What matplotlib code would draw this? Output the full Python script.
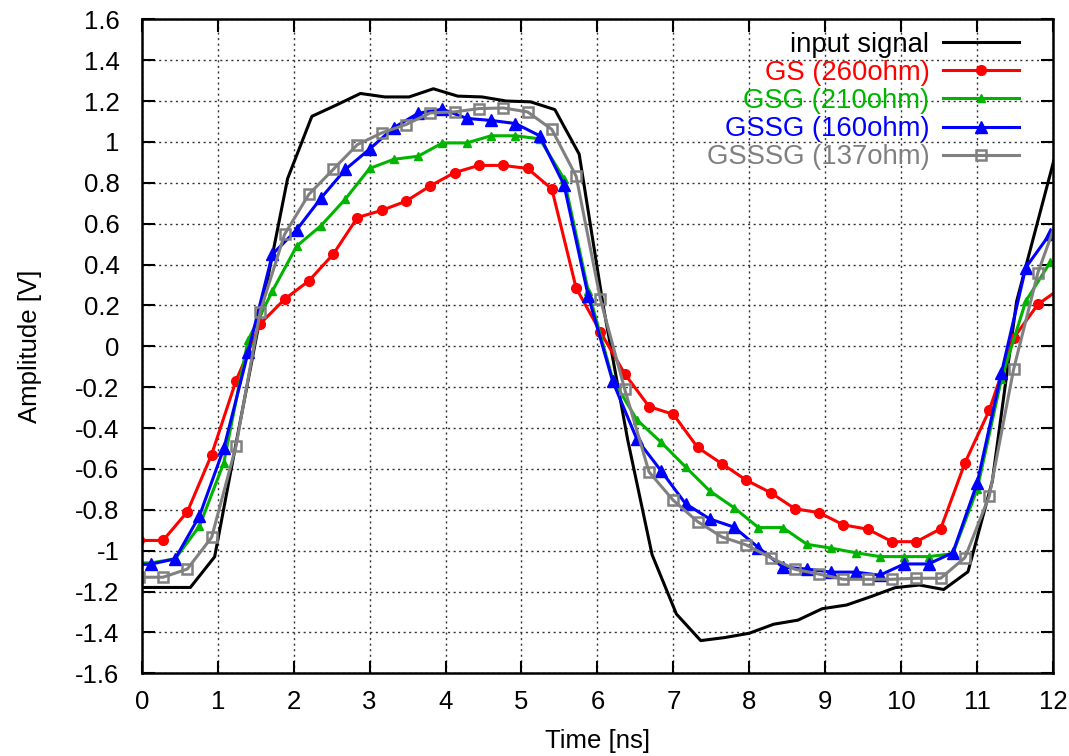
import matplotlib
matplotlib.use("Agg")
import matplotlib.pyplot as plt

# sample times [ns]; the scope traces are sampled every 0.32 ns
t_input = [0.00, 0.32, 0.64, 0.96, 1.28, 1.60, 1.92, 2.24, 2.56, 2.88, 3.20, 3.52, 3.84,
           4.16, 4.48, 4.80, 5.12, 5.44, 5.76, 6.08, 6.40, 6.72, 7.04, 7.36, 7.68, 8.00,
           8.32, 8.64, 8.96, 9.28, 9.60, 9.92, 10.24, 10.56, 10.88, 11.20, 11.52, 11.84, 12.16]
t_a = [-0.04, 0.28, 0.60, 0.92, 1.24, 1.56, 1.88, 2.20, 2.52, 2.84, 3.16, 3.48, 3.80,
       4.12, 4.44, 4.76, 5.08, 5.40, 5.72, 6.04, 6.36, 6.68, 7.00, 7.32, 7.64, 7.96,
       8.28, 8.60, 8.92, 9.24, 9.56, 9.88, 10.20, 10.52, 10.84, 11.16, 11.48, 11.80, 12.12]
t_b = [-0.20, 0.12, 0.44, 0.76, 1.08, 1.40, 1.72, 2.04, 2.36, 2.68, 3.00, 3.32, 3.64,
       3.96, 4.28, 4.60, 4.92, 5.24, 5.56, 5.88, 6.20, 6.52, 6.84, 7.16, 7.48, 7.80,
       8.12, 8.44, 8.76, 9.08, 9.40, 9.72, 10.04, 10.36, 10.68, 11.00, 11.32, 11.64, 11.96]

# amplitudes [V]
input_signal = [-1.18, -1.18, -1.18, -1.03, -0.40, 0.22, 0.82, 1.125, 1.18, 1.237, 1.22, 1.22, 1.26,
                1.224, 1.22, 1.20, 1.196, 1.158, 0.94, 0.19, -0.46, -1.02, -1.31, -1.44, -1.425, -1.404,
                -1.36, -1.34, -1.284, -1.266, -1.225, -1.181, -1.168, -1.19, -1.103, -0.66, 0.22, 0.67, 1.12]
gs = [-0.95, -0.95, -0.81, -0.53, -0.17, 0.11, 0.23, 0.32, 0.45, 0.63, 0.665, 0.71, 0.785,
      0.85, 0.885, 0.885, 0.87, 0.77, 0.285, 0.07, -0.135, -0.295, -0.333, -0.495, -0.575, -0.655,
      -0.716, -0.795, -0.814, -0.874, -0.895, -0.956, -0.956, -0.893, -0.57, -0.313, 0.04, 0.205, 0.29]
gsg = [-1.06, -1.06, -1.04, -0.88, -0.57, 0.03, 0.27, 0.49, 0.59, 0.72, 0.87, 0.915, 0.93,
       0.995, 0.995, 1.03, 1.03, 1.015, 0.82, 0.27, -0.16, -0.36, -0.47, -0.59, -0.708, -0.79,
       -0.887, -0.887, -0.969, -0.988, -1.01, -1.029, -1.029, -1.029, -1.015, -0.70, -0.16, 0.22, 0.41]
gssg = [-1.07, -1.066, -1.04, -0.83, -0.50, -0.03, 0.45, 0.57, 0.725, 0.865, 0.965, 1.07, 1.14,
        1.16, 1.115, 1.105, 1.09, 1.03, 0.79, 0.245, -0.17, -0.455, -0.61, -0.77, -0.845, -0.885,
        -0.985, -1.08, -1.09, -1.105, -1.105, -1.12, -1.065, -1.065, -1.01, -0.67, -0.13, 0.385, 0.55]
gsssg = [-1.13, -1.13, -1.09, -0.935, -0.49, 0.17, 0.547, 0.743, 0.865, 0.987, 1.044, 1.085, 1.142,
         1.147, 1.163, 1.166, 1.147, 1.061, 0.832, 0.229, -0.211, -0.615, -0.754, -0.858, -0.933, -0.972,
         -1.034, -1.091, -1.115, -1.14, -1.14, -1.14, -1.135, -1.135, -1.034, -0.733, -0.113, 0.36, 0.69]

x_ticks = list(range(0, 13))
y_ticks = [-1.6, -1.4, -1.2, -1.0, -0.8, -0.6, -0.4, -0.2, 0.0, 0.2, 0.4, 0.6, 0.8, 1.0, 1.2, 1.4, 1.6]

plt.rcParams['font.family'] = ['Liberation Sans', 'DejaVu Sans']
plt.rcParams['font.size'] = 18.5
plt.rcParams['axes.unicode_minus'] = False

fig = plt.figure(figsize=(10.69, 7.56), dpi=100)
ax = fig.add_axes([0.1326, 0.1094, 0.8525, 0.8651])

# gnuplot-like look: black trace first, coloured ones on top
ax.plot(t_input, input_signal, color='black', lw=2.2, label='input signal')
ax.plot(t_a, gs, color='#ff0000', lw=2.2, marker='o', ms=7, label='GS (260ohm)')
ax.plot(t_b, gsg, color='#00b400', lw=2.2, marker='^', ms=6, label='GSG (210ohm)')
ax.plot(t_b, gssg, color='#0000ff', lw=2.2, marker='^', ms=9, label='GSSG (160ohm)')
ax.plot(t_a, gsssg, color='#808080', lw=2.2, marker='s', ms=7.5, mfc='none', mew=1.8,
        label='GSSSG (137ohm)')

ax.set_xlim(0, 12)
ax.set_ylim(-1.6, 1.6)
ax.set_xticks(x_ticks)
ax.set_yticks(y_ticks)
ax.set_xticklabels([str(v) for v in x_ticks])
ax.set_yticklabels(['0' if abs(v) < 1e-9 else '%g' % v for v in y_ticks])
ax.tick_params(direction='in', top=True, right=True, length=9, width=1.5, pad=12)
ax.tick_params(axis='y', pad=16)
for s in ax.spines.values():
    s.set_linewidth(1.8)

ax.grid(True, color='0.2', linestyle=(0, (1.5, 2.5)), linewidth=1)
ax.set_axisbelow(True)

ax.set_xlabel('Time [ns]')
ax.set_ylabel('Amplitude [V]')
ax.xaxis.set_label_coords(0.5, -0.085)
ax.yaxis.set_label_coords(-0.11, 0.5)

leg = ax.legend(loc='upper right', bbox_to_anchor=(0.9745, 0.998), borderaxespad=0,
                markerfirst=False, frameon=False, fontsize=19.8, handlelength=2.75,
                handletextpad=0.5, labelspacing=0.08)
for txt, line in zip(leg.get_texts(), leg.get_lines()):
    txt.set_color(line.get_color())

plt.savefig('out.png', dpi=100)
